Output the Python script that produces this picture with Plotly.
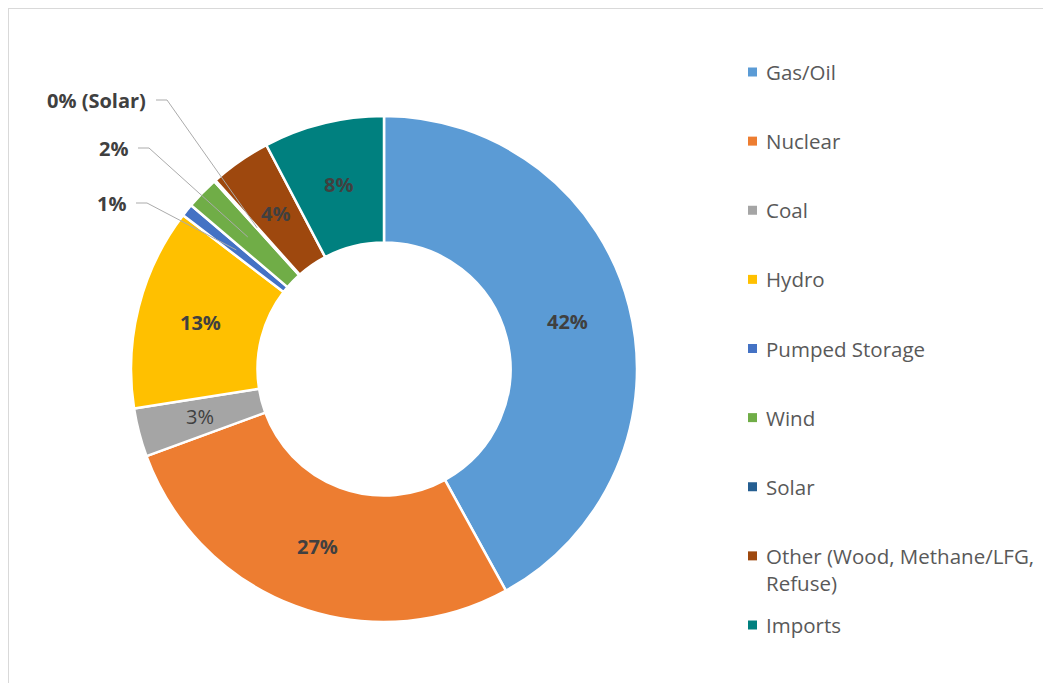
import math
import plotly.graph_objects as go

# ---------------- data ----------------
categories = ["Gas/Oil", "Nuclear", "Coal", "Hydro", "Pumped Storage", "Wind",
              "Solar", "Other (Wood, Methane/LFG, Refuse)", "Imports"]
shares = [42.0, 27.4, 3.1, 12.9, 0.8, 2.1, 0.1, 3.9, 7.7]
colors = ["#5B9BD5", "#ED7D31", "#A5A5A5", "#FFC000", "#4472C4", "#70AD47",
          "#255E91", "#9E480E", "#00807F"]
callout_categories = ["Pumped Storage", "Wind", "Solar"]
callout_suffix = {"Solar": " (Solar)"}
regular_weight_categories = ["Coal"]

# ---------------- geometry (screen pixels) ----------------
W, H = 1051, 683
OFF = 8  # page body margin
CX, CY, R = 384, 369, 253
HOLE = 0.5


def px(x):
    return (x - OFF) / W


def py(y):
    return 1 - (y - OFF) / H


fig = go.Figure()
fig.add_trace(go.Pie(
    labels=categories,
    values=shares,
    sort=False,
    direction="clockwise",
    rotation=0,
    hole=HOLE,
    marker=dict(colors=colors, line=dict(color="white", width=2.5)),
    textinfo="none",
    showlegend=False,
    domain=dict(x=[px(CX - R), px(CX + R)], y=[py(CY + R), py(CY - R)]),
    hoverinfo="label+percent",
))

shapes = []
annotations = []

# border (top & left)
shapes.append(dict(type="line", xref="paper", yref="paper",
                   x0=px(7), x1=1.02, y0=py(8), y1=py(8),
                   line=dict(color="#D9D9D9", width=2)))
shapes.append(dict(type="line", xref="paper", yref="paper",
                   x0=px(8), x1=px(8), y0=py(7), y1=-0.02,
                   line=dict(color="#D9D9D9", width=2)))

# slice mid-ring positions derived from the data
total = sum(shares)
r_mid = R * (1 + HOLE) / 2
cum = 0.0
mid_pt = {}
pct = {}
for c, s in zip(categories, shares):
    th = 2 * math.pi * (cum + s / 2) / total
    mid_pt[c] = (CX + r_mid * math.sin(th), CY - r_mid * math.cos(th))
    pct[c] = f"{round(100 * s / total):.0f}%"
    cum += s

LABEL_FONT = dict(family="Open Sans", size=20, color="#404040")

# inside data labels
for c in categories:
    if c in callout_categories:
        continue
    mx, my = mid_pt[c]
    txt = pct[c] if c in regular_weight_categories else f"<b>{pct[c]}</b>"
    annotations.append(dict(x=px(mx), y=py(my), xref="paper", yref="paper",
                            xanchor="center", yanchor="middle", showarrow=False,
                            text=txt, font=LABEL_FONT))

# callouts with leader lines to the mid-ring of each small slice
callout_text_pos = {"Pumped Storage": (128, 203), "Wind": (130, 148), "Solar": (148, 100)}
for c in callout_categories:
    label = f"<b>{pct[c]}{callout_suffix.get(c, '')}</b>"
    tx, ty = callout_text_pos[c]
    ex, ey = mid_pt[c]
    x1, x2 = tx + 8, tx + 19
    path = f"M {px(x1)},{py(ty)} L {px(x2)},{py(ty)} L {px(ex)},{py(ey)}"
    shapes.append(dict(type="path", xref="paper", yref="paper", path=path,
                       line=dict(color="#ABABAB", width=1)))
    annotations.append(dict(x=px(tx), y=py(ty), xref="paper", yref="paper",
                            xanchor="right", yanchor="middle", showarrow=False,
                            text=label, font=LABEL_FONT))

# manual legend
LEG_X, LEG_Y0, LEG_DY, SQ = 748, 72, 69.125, 9
LINE_H = 28
for i, (c, col) in enumerate(zip(categories, colors)):
    yc = LEG_Y0 + i * LEG_DY
    lbl = c.replace(", Refuse", ",<br>Refuse")
    nlines = lbl.count("<br>") + 1
    shapes.append(dict(type="rect", xref="paper", yref="paper",
                       x0=px(LEG_X), x1=px(LEG_X + SQ),
                       y0=py(yc + SQ / 2), y1=py(yc - SQ / 2),
                       fillcolor=col, line=dict(width=0)))
    annotations.append(dict(x=px(LEG_X + 16), y=py(yc + (nlines - 1) * LINE_H / 2),
                            xref="paper", yref="paper", xanchor="left", yanchor="middle",
                            align="left", showarrow=False, text=lbl,
                            font=dict(family="Open Sans", size=20.5, color="#595959")))

fig.update_layout(
    width=W, height=H,
    margin=dict(l=0, r=0, t=0, b=0),
    paper_bgcolor="white",
    plot_bgcolor="white",
    shapes=shapes,
    annotations=annotations,
    showlegend=False,
)

fig.write_html("out.html")
